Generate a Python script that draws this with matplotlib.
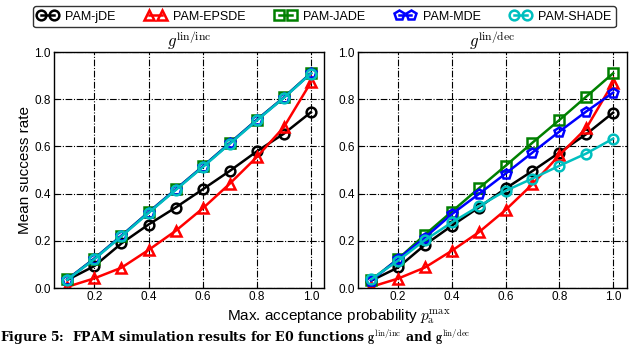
import numpy as np
import matplotlib
matplotlib.use('Agg')
import matplotlib.pyplot as plt

plt.rcParams['mathtext.fontset'] = 'cm'
plt.rcParams['font.family'] = ['Liberation Sans', 'DejaVu Sans']

p_max = [0.1, 0.2, 0.3, 0.4, 0.5, 0.6, 0.7, 0.8, 0.9, 1.0]

# g^{lin/inc}
inc_jde = [0.034, 0.093, 0.189, 0.269, 0.341, 0.418, 0.496, 0.579, 0.654, 0.745]
inc_epsde = [0.005, 0.041, 0.086, 0.161, 0.242, 0.337, 0.442, 0.555, 0.682, 0.872]
inc_jade = [0.037, 0.125, 0.222, 0.321, 0.418, 0.515, 0.614, 0.713, 0.808, 0.911]
inc_mde = [0.036, 0.124, 0.221, 0.320, 0.417, 0.514, 0.613, 0.712, 0.807, 0.910]
inc_shade = [0.035, 0.122, 0.219, 0.318, 0.415, 0.512, 0.611, 0.710, 0.806, 0.909]

# g^{lin/dec}
dec_jde = [0.031, 0.087, 0.183, 0.264, 0.341, 0.422, 0.496, 0.574, 0.652, 0.743]
dec_epsde = [0.005, 0.040, 0.087, 0.158, 0.236, 0.331, 0.440, 0.563, 0.677, 0.870]
dec_jade = [0.034, 0.123, 0.226, 0.324, 0.422, 0.518, 0.616, 0.712, 0.811, 0.910]
dec_mde = [0.031, 0.123, 0.214, 0.313, 0.398, 0.485, 0.574, 0.663, 0.748, 0.828]
dec_shade = [0.037, 0.116, 0.203, 0.278, 0.346, 0.412, 0.464, 0.518, 0.570, 0.633]

names = ['PAM-jDE', 'PAM-EPSDE', 'PAM-JADE', 'PAM-MDE', 'PAM-SHADE']
colors = ['black', '#ff0000', '#008000', '#0000ff', '#00bfbf']
markers = ['o', '^', 's', 'p', 'o']

panels = [
    (r'$g^{\mathrm{lin/inc}}$', [inc_jde, inc_epsde, inc_jade, inc_mde, inc_shade]),
    (r'$g^{\mathrm{lin/dec}}$', [dec_jde, dec_epsde, dec_jade, dec_mde, dec_shade]),
]

fig = plt.figure(figsize=(6.4, 3.47), dpi=100)
ax1 = fig.add_axes([0.084, 0.170, 0.423, 0.680])
ax2 = fig.add_axes([0.559, 0.170, 0.420, 0.680])

for ax, (title, series) in zip([ax1, ax2], panels):
    for vals, name, c, m in zip(series, names, colors, markers):
        ax.plot(p_max, vals, color=c, marker=m, markersize=7, markerfacecolor='none',
                markeredgewidth=1.8, linewidth=1.8, label=name)
    ax.set_xlim(0.05, 1.05)
    ax.set_ylim(0.0, 1.0)
    ax.set_xticks([0.2, 0.4, 0.6, 0.8, 1.0])
    ax.set_yticks([0.0, 0.2, 0.4, 0.6, 0.8, 1.0])
    ax.grid(True, color='black', linestyle=(0, (6, 1.5, 1, 1.5)), linewidth=0.8)
    ax.tick_params(direction='in', labelsize=8.5, length=3, pad=2)
    ax.set_title(title, fontsize=12, pad=3)
    for s in ax.spines.values():
        s.set_linewidth(1.0)

ax1.set_ylabel('Mean success rate', fontsize=11, labelpad=2)
fig.text(0.53, 0.088, r'Max. acceptance probability $p_{\mathrm{a}}^{\max}$',
         ha='center', va='center', fontsize=11)

handles, labels = ax1.get_legend_handles_labels()
leg = fig.legend(handles, labels, loc='upper center', bbox_to_anchor=(0.507, 1.0),
                 ncol=5, fontsize=9, numpoints=2, handlelength=1.6, columnspacing=2.4,
                 handletextpad=0.6, frameon=True, fancybox=True, borderpad=0.35)
leg.get_frame().set_edgecolor('black')
leg.get_frame().set_linewidth(1.0)

fig.text(0.0, 0.0, r'Figure 5:  FPAM simulation results for E0 functions $\mathbf{g}^{\mathrm{lin/inc}}$ and $\mathbf{g}^{\mathrm{lin/dec}}$',
         ha='left', va='bottom', fontsize=9, fontweight='bold', family='DejaVu Serif')

fig.savefig('out.png', dpi=100)
